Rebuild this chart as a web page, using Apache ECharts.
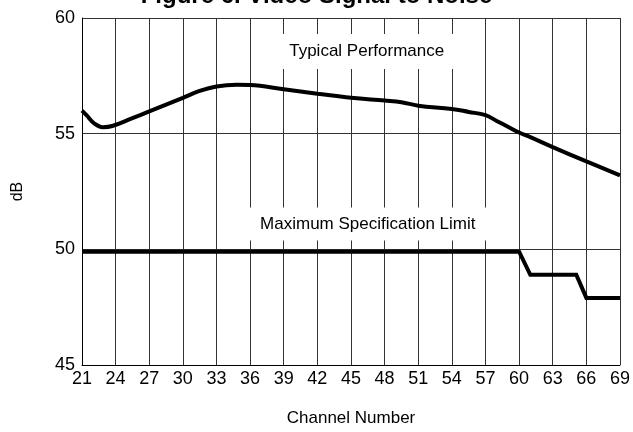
<!DOCTYPE html>
<html>
<head>
<meta charset="utf-8">
<script src="https://cdn.jsdelivr.net/npm/echarts@6/dist/echarts.min.js"></script>
<style>
html,body{margin:0;padding:0;background:#fff;}
#c{width:633px;height:432px;}
</style>
</head>
<body>
<div id="c"></div>
<script>
// ---- data ----
var titleText = 'Figure 6. Video Signal to Noise';
var xName = 'Channel Number';
var yName = 'dB';

var typicalChannel = [21, 21.4, 22.1, 22.85, 23.7, 25.5, 27, 30, 31.5, 33, 34.8, 36, 39, 42, 45, 48, 49.5, 51, 54, 55.5, 57, 58, 59, 60, 61, 63, 66, 69];
var typicalDb      = [56.0, 55.8, 55.44, 55.28, 55.33, 55.67, 55.96, 56.55, 56.85, 57.04, 57.11, 57.1, 56.92, 56.73, 56.55, 56.43, 56.36, 56.21, 56.07, 55.94, 55.8, 55.55, 55.3, 55.05, 54.85, 54.42, 53.8, 53.2];

var specChannel = [21, 60, 61, 65.1, 66, 69];
var specDb      = [49.9, 49.9, 48.9, 48.9, 47.9, 47.9];

var annotationText    = ['Typical Performance', 'Maximum Specification Limit'];
var annotationChannel = [46.4, 46.5];
var annotationDb      = [58.55, 51.1];

// ---- chart ----
function pairs(xs, ys) { return xs.map(function (x, i) { return [x, ys[i]]; }); }

var FONT = '"Liberation Sans", Arial, Helvetica, sans-serif';
var chart = echarts.init(document.getElementById('c'), null, { renderer: 'canvas' });

chart.setOption({
  animation: false,
  backgroundColor: '#fff',
  title: {
    text: titleText,
    left: 'center',
    top: -16,
    padding: 0,
    textStyle: { fontFamily: FONT, fontSize: 24, fontWeight: 'bold', color: '#000' }
  },
  grid: { left: 82, right: 9, top: 18, bottom: 62, containLabel: false },
  xAxis: {
    type: 'value',
    min: 21, max: 69, interval: 3,
    name: xName,
    nameLocation: 'middle',
    nameGap: 45,
    nameTextStyle: { fontFamily: FONT, fontSize: 17, color: '#000' },
    axisLine: { show: true, lineStyle: { color: '#000', width: 1 } },
    axisTick: { show: false },
    axisLabel: { fontFamily: FONT, fontSize: 18, color: '#000', margin: 5 },
    splitLine: { show: true, lineStyle: { color: '#333', width: 1 } }
  },
  yAxis: {
    type: 'value',
    min: 45, max: 60, interval: 5,
    name: yName,
    nameLocation: 'middle',
    nameGap: 56,
    nameRotate: 90,
    nameTextStyle: { fontFamily: FONT, fontSize: 16, color: '#000' },
    axisLine: { show: true, lineStyle: { color: '#000', width: 1 } },
    axisTick: { show: false },
    axisLabel: { fontFamily: FONT, fontSize: 18, color: '#000', margin: 7 },
    splitLine: { show: true, lineStyle: { color: '#333', width: 1 } }
  },
  series: [
    {
      type: 'line',
      data: pairs(typicalChannel, typicalDb),
      smooth: 0.4,
      showSymbol: false,
      lineStyle: { color: '#000', width: 4 },
      z: 3
    },
    {
      type: 'line',
      data: pairs(specChannel, specDb),
      showSymbol: false,
      lineStyle: { color: '#000', width: 4, join: 'miter' },
      z: 3
    },
    {
      type: 'scatter',
      symbolSize: 0,
      z: 4,
      itemStyle: { opacity: 1, color: '#fff' },
      data: annotationText.map(function (t, i) {
        return {
          name: t,
          value: [annotationChannel[i], annotationDb[i]],
          label: { padding: i === 0 ? [9, 28] : [8, 28] }
        };
      }),
      label: {
        show: true,
        position: 'inside',
        formatter: '{b}',
        fontFamily: FONT,
        fontSize: 17,
        color: '#000',
        opacity: 1,
        textBorderWidth: 0,
        backgroundColor: '#fff'
      },
      silent: true
    }
  ]
});
</script>
</body>
</html>
